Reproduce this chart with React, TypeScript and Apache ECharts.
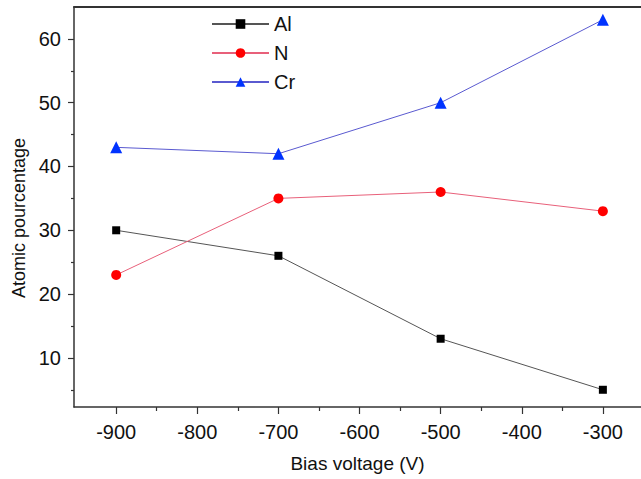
import React, { useEffect, useRef } from "react";
import * as echarts from "echarts";

const biasVoltage = [-900, -700, -500, -300];
const alValues = [30, 26, 13, 5];
const nValues = [23, 35, 36, 33];
const crValues = [43, 42, 50, 63];
const xMajorTicks = [-900, -800, -700, -600, -500, -400, -300];
const xMinorTicks = [-850, -750, -650, -550, -450, -350];
const yMajorTicks = [10, 20, 30, 40, 50, 60];
const yMinorTicks = [5, 15, 25, 35, 45, 55];

const FONT = "Liberation Sans, Arial, sans-serif";
const AXIS_COLOR = "#333333";

export default function App() {
  const ref = useRef<HTMLDivElement>(null);
  useEffect(() => {
    if (!ref.current) return;
    const chart = echarts.init(ref.current, undefined, { renderer: "svg" });
    const pair = (vals: number[]) => biasVoltage.map((x, i) => [x, vals[i]]);
    const xBase = { type: "value", min: -952, max: -253, gridIndex: 0 };
    const yBase = { type: "value", min: 2.3, max: 65, gridIndex: 0 };
    chart.setOption({
      animation: false,
      backgroundColor: "#ffffff",
      grid: { left: 74, top: 7, right: 0, bottom: 72 },
      legend: {
        orient: "vertical",
        left: 206,
        top: 9,
        itemWidth: 57,
        itemHeight: 12,
        itemGap: 9,
        textStyle: { fontFamily: FONT, fontSize: 20, color: "#111" },
        data: ["Al", "N", "Cr"],
      },
      xAxis: [
        {
          ...xBase,
          position: "bottom",
          name: "Bias voltage (V)",
          nameLocation: "middle",
          nameGap: 47,
          nameTextStyle: { fontFamily: FONT, fontSize: 19, color: "#111" },
          axisLine: { show: true, onZero: false, lineStyle: { color: AXIS_COLOR, width: 1.5 } },
          axisTick: { show: true, length: 7, customValues: xMajorTicks, lineStyle: { color: AXIS_COLOR, width: 1.2 } },
          axisLabel: { show: true, customValues: xMajorTicks, margin: 15, fontFamily: FONT, fontSize: 20, color: "#111" },
          splitLine: { show: false },
        },
        {
          ...xBase,
          position: "bottom",
          axisLine: { show: false },
          axisTick: { show: true, length: 4, customValues: xMinorTicks, lineStyle: { color: AXIS_COLOR, width: 1.2 } },
          axisLabel: { show: false },
          splitLine: { show: false },
        },
        {
          ...xBase,
          position: "top",
          axisLine: { show: true, onZero: false, lineStyle: { color: AXIS_COLOR, width: 2 } },
          axisTick: { show: false },
          axisLabel: { show: false },
          splitLine: { show: false },
        },
      ],
      yAxis: [
        {
          ...yBase,
          position: "left",
          name: "Atomic pourcentage",
          nameLocation: "middle",
          nameGap: 46,
          nameTextStyle: { fontFamily: FONT, fontSize: 18, color: "#111", padding: [0, 22, 0, 0] },
          axisLine: { show: true, onZero: false, lineStyle: { color: AXIS_COLOR, width: 1.5 } },
          axisTick: { show: true, length: 6, customValues: yMajorTicks, lineStyle: { color: AXIS_COLOR, width: 1.2 } },
          axisLabel: { show: true, customValues: yMajorTicks, margin: 13, fontFamily: FONT, fontSize: 20, color: "#111" },
          splitLine: { show: false },
        },
        {
          ...yBase,
          position: "left",
          axisLine: { show: false },
          axisTick: { show: true, length: 3, customValues: yMinorTicks, lineStyle: { color: AXIS_COLOR, width: 1.2 } },
          axisLabel: { show: false },
          splitLine: { show: false },
        },
      ],
      series: [
        {
          name: "Al",
          type: "line",
          data: pair(alValues),
          symbol: "rect",
          symbolSize: 8,
          itemStyle: { color: "#000000" },
          lineStyle: { color: "#555555", width: 1 },
        },
        {
          name: "N",
          type: "line",
          data: pair(nValues),
          symbol: "circle",
          symbolSize: 10,
          itemStyle: { color: "#ff0000" },
          lineStyle: { color: "#e8607a", width: 1 },
        },
        {
          name: "Cr",
          type: "line",
          data: pair(crValues),
          symbol: "triangle",
          symbolSize: 12,
          itemStyle: { color: "#0033ff" },
          lineStyle: { color: "#5a5ad0", width: 1 },
        },
      ],
    });
    return () => chart.dispose();
  }, []);
  return (
    <div
      ref={ref}
      style={{ position: "fixed", left: 0, top: 0, width: 641, height: 479, background: "#fff" }}
    />
  );
}
